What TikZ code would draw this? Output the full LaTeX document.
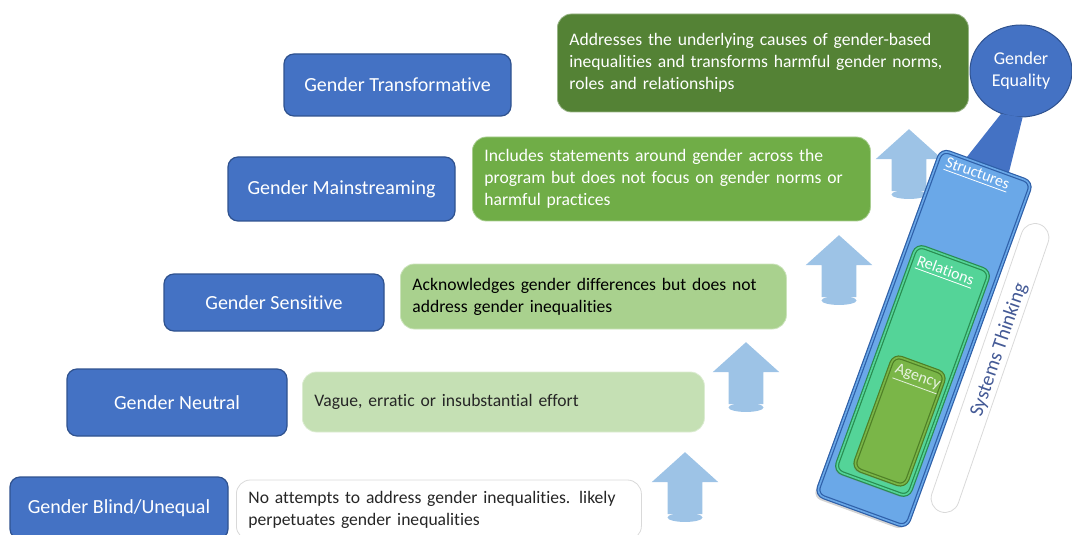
\documentclass[tikz,border=0pt]{standalone}
\usepackage{fontspec}
\setmainfont{Carlito}[Ligatures=NoCommon]
\usetikzlibrary{shapes.geometric, shapes.arrows, positioning, shadows}
\definecolor{levelcolor}{RGB}{68,114,196}
\definecolor{leveldraw}{RGB}{47,82,143}
\definecolor{greenA}{RGB}{84,130,53}
\definecolor{greenB}{RGB}{112,173,71}
\definecolor{greenC}{RGB}{169,209,142}
\definecolor{greenD}{RGB}{197,224,180}
\definecolor{arrowcolor}{RGB}{157,195,230}
\definecolor{structcolor}{RGB}{106,168,232}
\definecolor{structdraw}{RGB}{46,95,168}
\definecolor{relcolor}{RGB}{84,212,152}
\definecolor{reldraw}{RGB}{40,140,80}
\definecolor{agencycolor}{RGB}{122,182,72}
\definecolor{agencydraw}{RGB}{78,127,38}
\definecolor{systemscolor}{RGB}{68,90,150}

\begin{document}
\begin{tikzpicture}[
    x=0.5pt, y=-0.5pt,
    level/.style={rectangle, draw=leveldraw, line width=0.6pt, fill=levelcolor, rounded corners=5pt, text=white, font=\fontsize{10}{12}\selectfont, inner sep=0pt},
    desc/.style={rectangle, rounded corners=7pt, anchor=west, align=left, inner xsep=6pt, inner ysep=0pt, font=\fontsize{8.8}{11}\selectfont},
    stepup/.style={single arrow, shape border rotate=90, fill=arrowcolor, minimum height=31pt, minimum width=33pt, single arrow head extend=8pt, single arrow tip angle=96, inner xsep=8.5pt, inner ysep=0pt},
    base/.style={ellipse, fill=arrowcolor, minimum width=17.5pt, minimum height=4.5pt, inner sep=0pt},
    bar/.style={rectangle, rounded corners=4pt, rotate=-20, double distance=0.8pt, line width=0.6pt, inner sep=0pt},
    barlabel/.style={rotate=-20, font=\fontsize{8}{10}\selectfont}
]
    \useasboundingbox (0,0) rectangle (1072,535);
    \clip (0,0) rectangle (1072,535);

    % Levels
    \node[level, minimum width=113.5pt, minimum height=31pt] (transf) at (397.5,85) {Gender Transformative};
    \node[level, minimum width=113.5pt, minimum height=32pt] (mainstr) at (341.5,189) {Gender Mainstreaming};
    \node[level, minimum width=110pt, minimum height=28.5pt] (sensit) at (274,302.5) {Gender Sensitive};
    \node[level, minimum width=110pt, minimum height=33.5pt] (neutral) at (177,402.5) {Gender Neutral};
    \node[level, minimum width=109pt, minimum height=31pt] (blind) at (119,508) {Gender Blind/Unequal};

    % Descriptions
    \node[desc, fill=greenA, draw=greenA!60!white, text=white, text width=193.5pt, minimum height=49pt] (transfdesc) at (557,63)
        {Addresses the underlying causes of gender-based\\inequalities and transforms harmful gender norms,\\roles and relationships};
    \node[desc, fill=greenB, draw=greenB!60!white, text=white, text width=187pt, minimum height=42pt] (mainstrdesc) at (472,179)
        {Includes statements around gender across the\\program but does not focus on gender norms or\\harmful practices};
    \node[desc, fill=greenC, draw=greenC!60!white, text=black, text width=181pt, minimum height=32.5pt] (sensitdesc) at (400,296.5)
        {Acknowledges gender differences but does not\\address gender inequalities};
    \node[desc, fill=greenD, draw=greenD!60!white, text=black!85, text width=189pt, minimum height=30pt] (neutraldesc) at (302,402)
        {Vague, erratic or insubstantial effort};
    \node[desc, fill=white, draw=black!15, text=black!85, text width=190.5pt, minimum height=30pt] (blinddesc) at (236,510)
        {No attempts to address gender inequalities. likely\\perpetuates gender inequalities};

    % Step arrows
    \node[stepup] (arr1) at (685,491) {};
    \node[base, below=-1pt of arr1] (base1) {};
    \node[stepup] (arr2) at (746,381) {};
    \node[base, below=-1pt of arr2] (base2) {};
    \node[stepup] (arr3) at (839,274) {};
    \node[base, below=-1pt of arr3] (base3) {};
    \node[stepup] (arr4) at (909,168) {};
    \node[base, below=-1pt of arr4] (base4) {};

    % Goal
    \node[ellipse, fill=levelcolor, draw=leveldraw, line width=0.5pt, minimum width=51pt, minimum height=46pt, inner sep=0pt,
          text=white, align=center, font=\fontsize{9}{11}\selectfont] (equality) at (1021,71) {Gender\\Equality};
    \fill[levelcolor] (equality.-115) -- (955,172) -- (1008,176) -- (equality.-88) -- cycle;

    % Nested bars
    \node[bar, draw=structdraw, double=structcolor, fill=structcolor, minimum width=48pt, minimum height=183.5pt,
          drop shadow={opacity=0.35, shadow xshift=-1.5pt, shadow yshift=-1.5pt}] (structures) at (924,338.5) {};
    \node[bar, draw=reldraw, double=relcolor, fill=relcolor, minimum width=39pt, minimum height=120pt,
          drop shadow={opacity=0.3, shadow xshift=-1pt, shadow yshift=-1pt}] (relations) at (912.5,371) {};
    \node[bar, draw=agencydraw, double=agencycolor, fill=agencycolor, minimum width=27.5pt, minimum height=60pt,
          drop shadow={opacity=0.3, shadow xshift=-1pt, shadow yshift=-1pt}] (agency) at (899.5,421) {};
    \node[barlabel, text=white] (structlbl) at (977,175) {\underline{Structures}};
    \node[barlabel, text=white] (rellbl) at (945,272) {\underline{Relations}};
    \node[barlabel, text=greenD!40!white] (agencylbl) at (917,379) {\underline{Agency}};

    % Systems thinking
    \node[rectangle, rounded corners=7pt, draw=black!15, fill=white, rotate=-19, minimum width=14pt, minimum height=152pt, inner sep=0pt] (systems) at (990,368) {};
    \node[rotate=71, text=systemscolor, font=\fontsize{10}{12}\selectfont] (systemslbl) at (999,350) {Systems Thinking};
\end{tikzpicture}
\end{document}
